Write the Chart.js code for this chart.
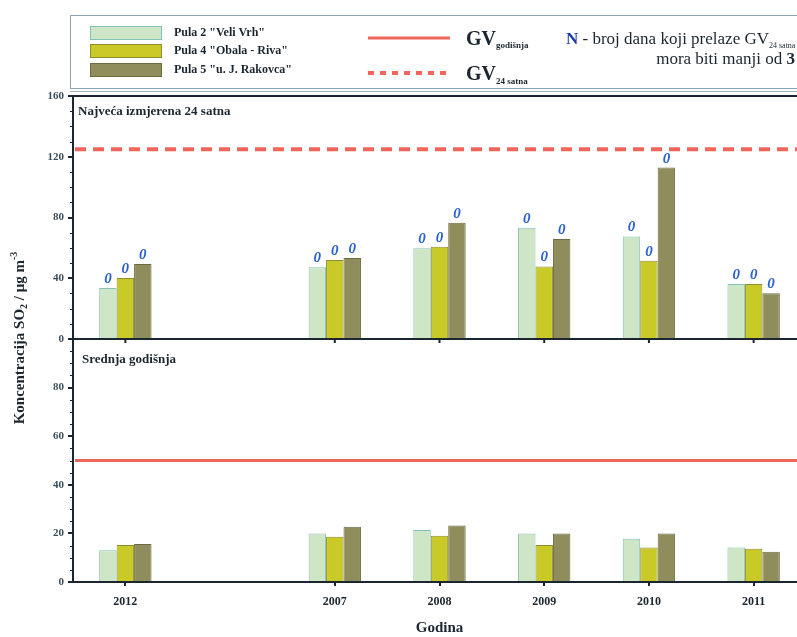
<!DOCTYPE html>
<html>
<head>
<meta charset="utf-8">
<title>SO2 Pula</title>
<script src="https://cdn.jsdelivr.net/npm/chart.js@4.4.1/dist/chart.umd.min.js"></script>
<style>
  html, body { margin: 0; padding: 0; background: #fff; overflow: hidden; }
  #wrap { position: relative; width: 806px; height: 637px; }
</style>
</head>
<body>
<div id="wrap"><canvas id="so2"></canvas></div>
<script>
// years on the x axis (blank slot separates 2012 from the 2007-2011 run)
const years = ["2012", "", "2007", "2008", "2009", "2010", "2011"];
const stations = ['Pula 2 "Veli Vrh"', 'Pula 4 "Obala - Riva"', 'Pula 5 "u. J. Rakovca"'];

// highest measured 24h concentration, µg/m3
const max24VeliVrh = [33.5, null, 47.2, 59.7, 73.2, 67.5, 36.2];
const max24Obala = [40.1, null, 52.0, 60.8, 47.8, 51.6, 36.2];
const max24Rakovca = [49.4, null, 53.4, 76.5, 65.9, 112.9, 30.2];

// number of days over the 24h limit
const daysOverVeliVrh = [0, null, 0, 0, 0, 0, 0];
const daysOverObala = [0, null, 0, 0, 0, 0, 0];
const daysOverRakovca = [0, null, 0, 0, 0, 0, 0];

// annual mean, µg/m3
const annualVeliVrh = [13.1, null, 20.0, 21.4, 20.0, 17.8, 14.2];
const annualObala = [15.2, null, 18.6, 19.0, 15.2, 14.2, 13.7];
const annualRakovca = [15.6, null, 22.7, 23.3, 20.0, 20.0, 12.5];

const limit24h = 125;
const limitAnnual = 50;
const topTicks = [0, 40, 80, 120, 160];
const bottomTicks = [0, 20, 40, 60, 80];

const SERIF = '"Liberation Serif", "DejaVu Serif", serif';
const INK = "#1b2630";
const RED = "#f0665a";
const fills = ["#cfe6c6", "#c9c927", "#8e8d5b"];
const edges = ["#84c2b6", "#8e8d2c", "#6c6b44"];

function drawRuns(ctx, runs, x, y) {
  for (const r of runs) {
    ctx.font = (r.style || "") + " " + (r.weight || "bold") + " " + r.size + "px " + SERIF;
    ctx.fillStyle = r.color || INK;
    ctx.fillText(r.text, x, y + (r.dy || 0));
    x += ctx.measureText(r.text).width;
  }
  return x;
}

function runsWidth(ctx, runs) {
  let w = 0;
  for (const r of runs) {
    ctx.font = (r.style || "") + " " + (r.weight || "bold") + " " + r.size + "px " + SERIF;
    w += ctx.measureText(r.text).width;
  }
  return w;
}

const decorations = {
  id: "decorations",
  beforeDatasetsDraw(chart) {
    const { ctx, chartArea, scales } = chart;
    ctx.save();
    // limit lines
    ctx.strokeStyle = RED;
    ctx.lineWidth = 4;
    ctx.setLineDash([11, 7]);
    const y24 = scales.y1.getPixelForValue(limit24h);
    ctx.beginPath();
    ctx.moveTo(chartArea.left + 2, y24);
    ctx.lineTo(chartArea.right, y24);
    ctx.stroke();
    ctx.setLineDash([]);
    ctx.lineWidth = 3;
    const yAnn = scales.y2.getPixelForValue(limitAnnual);
    ctx.beginPath();
    ctx.moveTo(chartArea.left + 2, yAnn);
    ctx.lineTo(chartArea.right, yAnn);
    ctx.stroke();
    ctx.restore();
  },
  afterDraw(chart) {
    const { ctx, chartArea, scales } = chart;
    ctx.save();

    // thin frame line above the plot
    ctx.strokeStyle = "#9db1bd";
    ctx.lineWidth = 1;
    ctx.beginPath();
    ctx.moveTo(70, chartArea.top - 4.5);
    ctx.lineTo(chartArea.right, chartArea.top - 4.5);
    ctx.stroke();

    // minor ticks on the left axis
    ctx.strokeStyle = INK;
    ctx.lineWidth = 1;
    for (let v = 10; v < 160; v += 10) {
      const y = Math.round(scales.y1.getPixelForValue(v)) + 0.5;
      ctx.beginPath(); ctx.moveTo(chartArea.left - 3, y); ctx.lineTo(chartArea.left, y); ctx.stroke();
    }
    for (let v = 5; v < 100; v += 5) {
      const y = Math.round(scales.y2.getPixelForValue(v)) + 0.5;
      ctx.beginPath(); ctx.moveTo(chartArea.left - 3, y); ctx.lineTo(chartArea.left, y); ctx.stroke();
    }
    // tick marks under the upper panel
    const y0 = scales.y1.getPixelForValue(0);
    ctx.lineWidth = 2;
    years.forEach((yr, i) => {
      if (!yr) return;
      const x = scales.x.getPixelForValue(i);
      ctx.beginPath(); ctx.moveTo(x, y0); ctx.lineTo(x, y0 + 4); ctx.stroke();
    });

    // day counts above the 24h bars
    const counts = [daysOverVeliVrh, daysOverObala, daysOverRakovca];
    ctx.font = "italic bold 15px " + SERIF;
    ctx.fillStyle = "#2a62cc";
    ctx.textAlign = "center";
    ctx.textBaseline = "alphabetic";
    for (let d = 0; d < 3; d++) {
      chart.getDatasetMeta(d).data.forEach((bar, i) => {
        if (counts[d][i] === null) return;
        ctx.fillText(String(counts[d][i]), bar.x, bar.y - 5);
      });
    }

    // panel titles
    ctx.textAlign = "left";
    ctx.textBaseline = "middle";
    ctx.fillStyle = INK;
    ctx.font = "bold 13px " + SERIF;
    ctx.fillText("Najveća izmjerena 24 satna", 78, 112);
    ctx.fillText("Srednja godišnja", 82, 360);

    // axis titles
    ctx.textAlign = "center";
    ctx.font = "bold 15px " + SERIF;
    ctx.fillText("Godina", (chartArea.left + chartArea.right) / 2, 628);

    ctx.save();
    ctx.translate(20, 338);
    ctx.rotate(-Math.PI / 2);
    ctx.textAlign = "left";
    ctx.textBaseline = "middle";
    const yTitle = [
      { text: "Koncentracija SO", size: 15 },
      { text: "2", size: 10, dy: 4 },
      { text: " / μg m", size: 15 },
      { text: "-3", size: 10, dy: -6 }
    ];
    drawRuns(ctx, yTitle, -runsWidth(ctx, yTitle) / 2, 0);
    ctx.restore();

    // legend box
    ctx.strokeStyle = "#8fa4b3";
    ctx.lineWidth = 1;
    ctx.strokeRect(70.5, 15.5, 760, 73);
    ctx.textAlign = "left";
    ctx.textBaseline = "middle";
    const rowY = [33, 51, 70];
    stations.forEach((name, i) => {
      ctx.fillStyle = fills[i];
      ctx.fillRect(90, rowY[i] - 7, 72, 14);
      ctx.strokeStyle = edges[i];
      ctx.strokeRect(90.5, rowY[i] - 6.5, 71, 13);
      ctx.fillStyle = INK;
      ctx.font = "bold 12px " + SERIF;
      ctx.fillText(name, 174, rowY[i]);
    });

    ctx.strokeStyle = RED;
    ctx.lineWidth = 3;
    ctx.beginPath(); ctx.moveTo(368, 38); ctx.lineTo(450, 38); ctx.stroke();
    ctx.lineWidth = 4;
    ctx.setLineDash([6, 6]);
    ctx.beginPath(); ctx.moveTo(368, 73); ctx.lineTo(450, 73); ctx.stroke();
    ctx.setLineDash([]);

    ctx.textBaseline = "alphabetic";
    drawRuns(ctx, [{ text: "GV", size: 20 }, { text: "godišnja", size: 9, dy: 3 }], 466, 45);
    drawRuns(ctx, [{ text: "GV", size: 20 }, { text: "24 satna", size: 9, dy: 4 }], 466, 80);
    drawRuns(ctx, [
      { text: "N", size: 17, color: "#1f3fa8" },
      { text: " - broj dana koji prelaze GV", size: 17, weight: "normal" },
      { text: "24 satna", size: 8, weight: "normal", dy: 4 }
    ], 566, 44);
    const line2 = [
      { text: "mora biti manji od ", size: 17, weight: "normal" },
      { text: "3", size: 17 }
    ];
    drawRuns(ctx, line2, 795 - runsWidth(ctx, line2), 64);

    ctx.restore();
  }
};

function barSet(label, values, i, axis) {
  return {
    label: label,
    data: values,
    yAxisID: axis,
    stack: "s" + i,
    backgroundColor: fills[i],
    borderColor: edges[i],
    borderWidth: 1,
    categoryPercentage: 0.5,
    barPercentage: 1.0
  };
}

const tickFont = { family: SERIF, size: 11, weight: "bold" };

new Chart(document.getElementById("so2"), {
  type: "bar",
  data: {
    labels: years,
    datasets: [
      barSet(stations[0], max24VeliVrh, 0, "y1"),
      barSet(stations[1], max24Obala, 1, "y1"),
      barSet(stations[2], max24Rakovca, 2, "y1"),
      barSet(stations[0], annualVeliVrh, 0, "y2"),
      barSet(stations[1], annualObala, 1, "y2"),
      barSet(stations[2], annualRakovca, 2, "y2")
    ]
  },
  options: {
    responsive: true,
    maintainAspectRatio: false,
    animation: false,
    layout: { padding: { top: 96, left: 0, right: 0, bottom: 0 } },
    plugins: {
      legend: { display: false },
      tooltip: { enabled: false }
    },
    scales: {
      x: {
        offset: true,
        border: { display: true, color: INK, width: 2 },
        grid: {
          offset: false,
          drawOnChartArea: false,
          tickLength: 4,
          lineWidth: 2,
          tickColor: (c) => (years[c.index] ? INK : "transparent")
        },
        ticks: { font: { family: SERIF, size: 12, weight: "bold" }, color: INK, padding: 9 },
        afterFit: (s) => { s.height = 55; }
      },
      y1: {
        position: "left",
        stack: "panels",
        stackWeight: 1,
        weight: 2,
        min: 0,
        max: 160,
        afterBuildTicks: (s) => { s.ticks = topTicks.map((v) => ({ value: v })); },
        border: { color: INK, width: 2 },
        grid: {
          lineWidth: 2,
          color: (c) => (c.tick.value === 0 || c.tick.value === 160 ? INK : "transparent"),
          tickColor: INK,
          tickLength: 5
        },
        ticks: { font: tickFont, color: "#3a4d5c", padding: 4 },
        afterFit: (s) => { s.width = 73; }
      },
      y2: {
        position: "left",
        stack: "panels",
        stackWeight: 1,
        weight: 1,
        min: 0,
        max: 100,
        afterBuildTicks: (s) => { s.ticks = bottomTicks.map((v) => ({ value: v })); },
        border: { color: INK, width: 2 },
        grid: { color: "transparent", tickColor: INK, tickLength: 5, lineWidth: 2 },
        ticks: { font: tickFont, color: "#3a4d5c", padding: 4 },
        afterFit: (s) => { s.width = 73; }
      }
    }
  },
  plugins: [decorations]
});
</script>
</body>
</html>
